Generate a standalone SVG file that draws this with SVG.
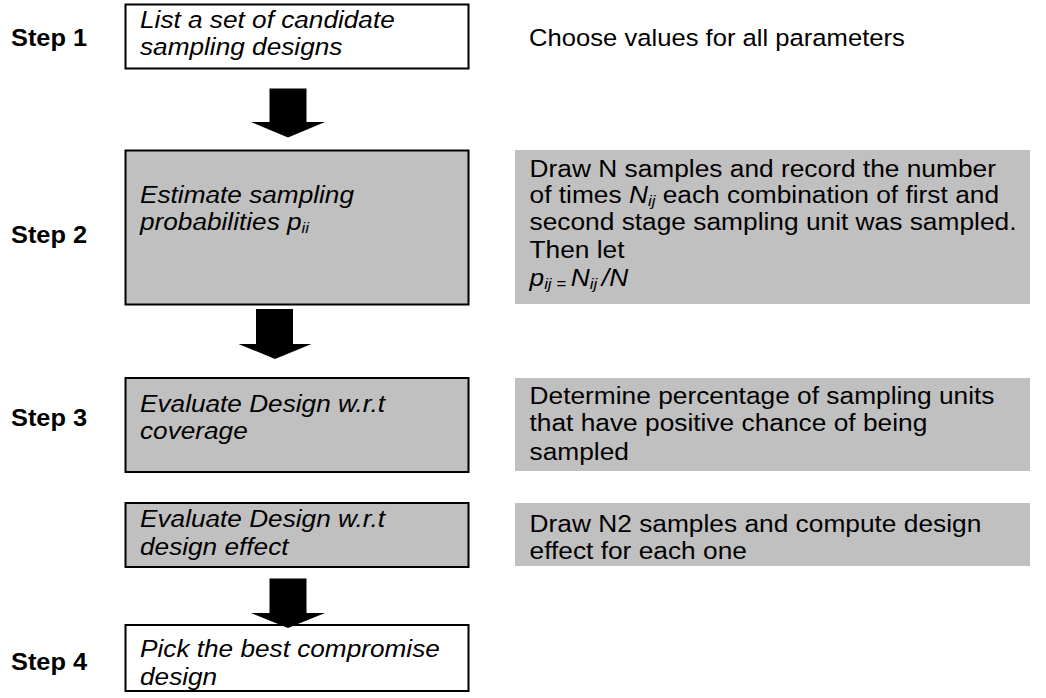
<svg xmlns="http://www.w3.org/2000/svg" width="1046" height="698" viewBox="0 0 1046 698">
  <style>
    .box { stroke: #000; stroke-width: 2; }
    .white { fill: #fff; }
    .grey { fill: #c0c0c0; }
    .panel { fill: #c0c0c0; }
    text { font-family: "Liberation Sans", Arial, sans-serif; font-size: 23.5px; fill: #000; }
    .step { font-weight: bold; }
    .it { font-style: italic; }
    .sub { font-size: 15px; }
    .arrow { fill: #000; }
  </style>

  <rect x="0" y="0" width="1046" height="698" fill="#fff"/>

  <!-- step labels -->
  <g id="labels">
    <text class="step" transform="translate(11 45.5) scale(1.08 1)">Step 1</text>
    <text class="step" transform="translate(11 243) scale(1.08 1)">Step 2</text>
    <text class="step" transform="translate(11 426) scale(1.08 1)">Step 3</text>
    <text class="step" transform="translate(11 670) scale(1.08 1)">Step 4</text>
  </g>

  <!-- left column: process boxes -->
  <g id="box-candidates">
    <rect class="box white" x="125.5" y="4.5" width="343" height="64"/>
    <text class="it" transform="translate(140 28) scale(1.115 1)"><tspan x="0" y="0">List a set of candidate</tspan><tspan x="0" y="27.5">sampling designs</tspan></text>
  </g>

  <g id="box-probabilities">
    <rect class="box grey" x="125.5" y="150.5" width="343" height="154"/>
    <text class="it" transform="translate(140 203) scale(1.115 1)"><tspan x="0" y="0">Estimate sampling</tspan><tspan x="0" y="27.5">probabilities p<tspan class="sub" dy="3">ii</tspan></tspan></text>
  </g>

  <g id="box-coverage">
    <rect class="box grey" x="125.5" y="378" width="343" height="94"/>
    <text class="it" transform="translate(140 411.5) scale(1.115 1)"><tspan x="0" y="0">Evaluate Design w.r.t</tspan><tspan x="0" y="28">coverage</tspan></text>
  </g>

  <g id="box-design-effect">
    <rect class="box grey" x="125.5" y="503" width="343" height="64"/>
    <text class="it" transform="translate(140 527) scale(1.115 1)"><tspan x="0" y="0">Evaluate Design w.r.t</tspan><tspan x="0" y="28">design effect</tspan></text>
  </g>

  <g id="box-compromise">
    <rect class="box white" x="125.5" y="625" width="343" height="66"/>
    <text class="it" transform="translate(140 656.5) scale(1.115 1)"><tspan x="0" y="0">Pick the best compromise</tspan><tspan x="0" y="28.5">design</tspan></text>
  </g>

  <!-- right column: notes -->
  <g id="note-parameters">
    <text transform="translate(529 46) scale(1.09 1)">Choose values for all parameters</text>
  </g>

  <g id="note-draw-samples">
    <rect class="panel" x="515" y="150" width="515" height="154"/>
    <text transform="translate(529.5 176.5) scale(1.12 1)">
      <tspan x="0" y="0">Draw N samples and record the number</tspan>
      <tspan x="0" y="27">of times <tspan class="it">N</tspan><tspan class="sub it" dy="3">ij</tspan><tspan dy="-3"> each combination of first and</tspan></tspan>
      <tspan x="0" y="54">second stage sampling unit was sampled.</tspan>
      <tspan x="0" y="81.5">Then let</tspan>
      <tspan x="0" y="110" class="it">p<tspan class="sub" dy="3">ij = </tspan><tspan dy="-3">N</tspan><tspan class="sub" dy="3">ij </tspan><tspan dy="-3">/N</tspan></tspan>
    </text>
  </g>

  <g id="note-coverage">
    <rect class="panel" x="515" y="378" width="515" height="93"/>
    <text transform="translate(529.5 403.5) scale(1.12 1)">
      <tspan x="0" y="0">Determine percentage of sampling units</tspan>
      <tspan x="0" y="28">that have positive chance of being</tspan>
      <tspan x="0" y="56.5">sampled</tspan>
    </text>
  </g>

  <g id="note-design-effect">
    <rect class="panel" x="515" y="503" width="515" height="63"/>
    <text transform="translate(529.5 531.5) scale(1.12 1)">
      <tspan x="0" y="0">Draw N2 samples and compute design</tspan>
      <tspan x="0" y="28">effect for each one</tspan>
    </text>
  </g>

  <!-- block arrows between steps -->
  <g id="connectors">
    <polygon class="arrow" points="269.5,88.5 306.5,88.5 306.5,122 325,122 288,137.5 251,122 269.5,122"/>
    <polygon class="arrow" points="256,309 293,309 293,344 311.5,344 275,359 238.5,344 256,344"/>
    <polygon class="arrow" points="269.5,578.5 306.5,578.5 306.5,613 325,613 288,628 251,613 269.5,613"/>
  </g>
</svg>
